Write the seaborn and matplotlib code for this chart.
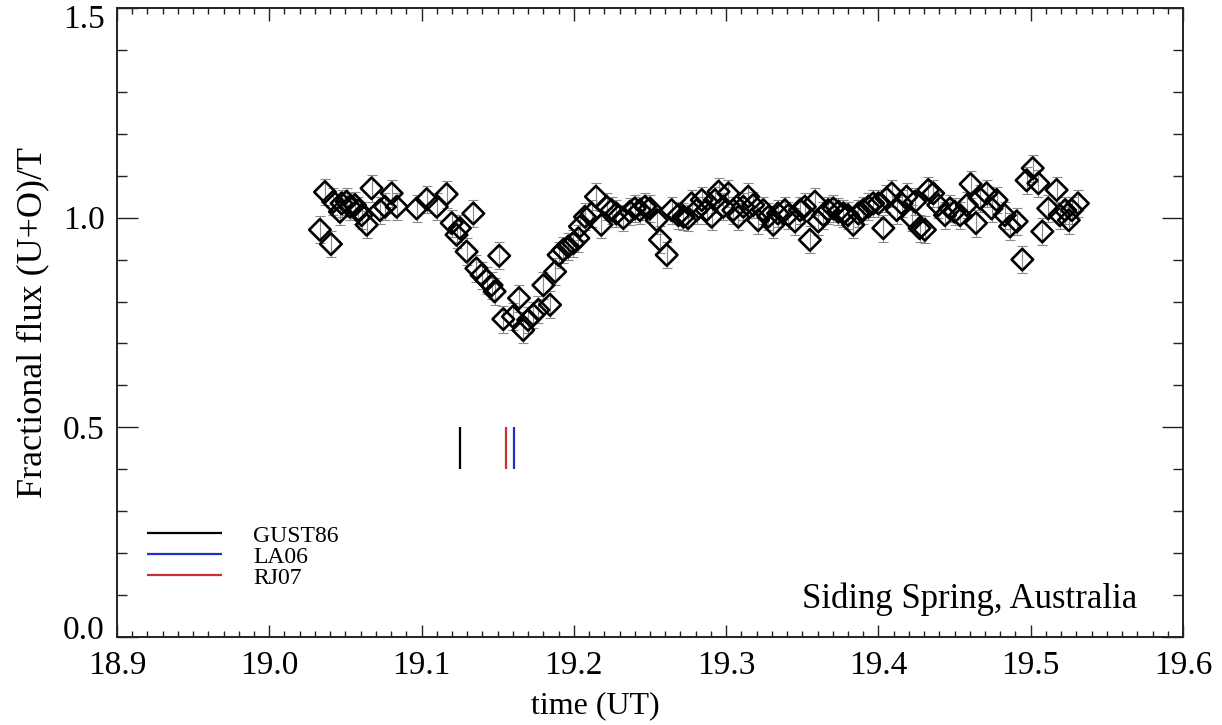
import matplotlib
matplotlib.use("Agg")
import matplotlib.pyplot as plt
import matplotlib.transforms as mtransforms
import seaborn as sns
import pandas as pd
from matplotlib.ticker import MultipleLocator

# ---------------- data ----------------
time_ut = [19.0333, 19.0366, 19.0405, 19.042, 19.0464, 19.0475, 19.0508, 19.053, 19.0563, 19.0585,
           19.0607, 19.064, 19.0672, 19.0727, 19.076, 19.0804, 19.0837, 19.0968, 19.1034, 19.110,
           19.1165, 19.1198, 19.123, 19.1252, 19.1296, 19.134, 19.136, 19.1394, 19.1427, 19.146,
           19.148, 19.151, 19.1537, 19.160, 19.164, 19.1668, 19.170, 19.1734, 19.1767, 19.180,
           19.1844, 19.1877, 19.190, 19.193, 19.1963, 19.1996, 19.203, 19.204, 19.2073, 19.2117,
           19.2145, 19.218, 19.2215, 19.2248, 19.228, 19.2325, 19.2368, 19.240, 19.2434, 19.2467,
           19.250, 19.2544, 19.2566, 19.261, 19.2642, 19.2686, 19.272, 19.275, 19.2773, 19.2806,
           19.284, 19.2872, 19.2905, 19.2927, 19.295, 19.2982, 19.3015, 19.3047, 19.308, 19.3113,
           19.3145, 19.3178, 19.321, 19.3244, 19.3277, 19.331, 19.334, 19.3386, 19.3408, 19.3452,
           19.3485, 19.3517, 19.355, 19.3583, 19.3605, 19.3638, 19.367, 19.3704, 19.3737, 19.377,
           19.380, 19.3835, 19.3868, 19.390, 19.3934, 19.3966, 19.400, 19.4032, 19.4053, 19.4087,
           19.412, 19.4152, 19.4185, 19.4218, 19.424, 19.427, 19.4305, 19.4327, 19.436, 19.4393,
           19.4437, 19.447, 19.450, 19.4536, 19.458, 19.4605, 19.464, 19.4667, 19.471, 19.4743,
           19.4776, 19.483, 19.4864, 19.4908, 19.4945, 19.4973, 19.5013, 19.505, 19.5076, 19.5115,
           19.517, 19.519, 19.5226, 19.525, 19.527, 19.531]

flux = [0.971, 1.061, 0.937, 1.038, 1.014, 1.034, 1.038, 1.026, 1.030, 1.018,
        1.006, 0.983, 1.070, 1.018, 1.026, 1.058, 1.026, 1.022, 1.044, 1.026,
        1.056, 0.987, 0.959, 0.975, 0.919, 1.010, 0.879, 0.863, 0.851, 0.839,
        0.824, 0.909, 0.758, 0.764, 0.808, 0.732, 0.756, 0.768, 0.780, 0.839,
        0.792, 0.871, 0.911, 0.923, 0.931, 0.939, 0.951, 0.979, 1.002, 1.010,
        1.050, 0.983, 1.026, 1.018, 1.010, 0.999, 1.014, 1.022, 1.018, 1.026,
        1.022, 0.994, 0.947, 0.911, 1.018, 1.006, 1.002, 0.999, 1.034, 1.018,
        1.042, 1.018, 1.002, 1.042, 1.062, 1.026, 1.058, 1.018, 1.002, 1.026,
        1.050, 1.030, 0.994, 1.018, 1.002, 0.983, 1.010, 1.018, 1.006, 0.991,
        1.018, 1.026, 0.947, 1.038, 0.991, 1.006, 1.018, 1.022, 1.014, 1.010,
        1.006, 0.983, 1.010, 1.018, 1.026, 1.034, 1.034, 0.975, 1.046, 1.058,
        1.018, 1.034, 1.050, 0.999, 1.038, 0.975, 0.971, 1.066, 1.058, 1.030,
        1.006, 1.022, 1.014, 1.006, 1.030, 1.080, 0.987, 1.046, 1.058, 1.022,
        1.042, 1.006, 0.979, 0.991, 0.900, 1.089, 1.118, 1.082, 0.967, 1.022,
        1.066, 1.006, 1.018, 0.994, 1.018, 1.034]

flux_err = 0.032

model_names = ["GUST86", "LA06", "RJ07"]
model_times = [19.1252, 19.1604, 19.1554]
model_colors = ["#000000", "#2030c8", "#c83030"]
mark_low, mark_high = 0.4, 0.5

x_ticks = [18.9, 19.0, 19.1, 19.2, 19.3, 19.4, 19.5, 19.6]
y_ticks = [0.0, 0.5, 1.0, 1.5]

# ---------------- style ----------------
sns.set_theme(style="ticks")
plt.rcParams["font.family"] = ["Liberation Serif", "DejaVu Serif"]
plt.rcParams["text.color"] = "black"
plt.rcParams["axes.labelcolor"] = "black"
plt.rcParams["xtick.color"] = "black"
plt.rcParams["ytick.color"] = "black"

fig = plt.figure(figsize=(12.22, 7.25), dpi=100)
ax = fig.add_axes([0.0957, 0.1214, 0.8724, 0.8676])

df = pd.DataFrame({"time": time_ut, "flux": flux})

ax.errorbar(df["time"], df["flux"], yerr=flux_err, fmt="none",
            ecolor="#8a8a8a", elinewidth=0.8, capsize=3.6, capthick=0.8, zorder=1)
sns.scatterplot(data=df, x="time", y="flux", ax=ax, marker="D", s=120,
                facecolor="none", edgecolor="black", linewidth=1.9, zorder=2, legend=False)

for name, t, c in zip(model_names, model_times, model_colors):
    ax.vlines(t, mark_low, mark_high, color=c, linewidth=1.6, label=name)

ax.set_xlim(18.9, 19.6)
ax.set_ylim(0.0, 1.5)
ax.set_xticks(x_ticks)
ax.set_yticks(y_ticks)
ax.set_xticklabels([f"{v:.1f}" for v in x_ticks])
ax.set_yticklabels([f"{v:.1f}" for v in y_ticks])
ax.xaxis.set_minor_locator(MultipleLocator(0.01))
ax.yaxis.set_minor_locator(MultipleLocator(0.1))

ax.tick_params(axis="both", which="both", direction="in", top=True, right=True,
               color="#222222", labelcolor="black", width=1.0, labelsize=24)
ax.tick_params(axis="x", which="major", length=9, pad=10)
ax.tick_params(axis="x", which="minor", length=4.5)
ax.tick_params(axis="y", which="major", length=15, pad=9)
ax.tick_params(axis="y", which="minor", length=7.5)
for sp in ax.spines.values():
    sp.set_linewidth(1.4)
    sp.set_color("#222222")

# end y labels are nudged inside the frame, as in the reference
ylabels = ax.get_yticklabels()
ylabels[0].set_transform(ylabels[0].get_transform() +
                         mtransforms.ScaledTranslation(0, 7 / 72, fig.dpi_scale_trans))
ylabels[-1].set_transform(ylabels[-1].get_transform() +
                          mtransforms.ScaledTranslation(0, -6 / 72, fig.dpi_scale_trans))

ax.set_xlabel("time (UT)", fontsize=23)
ax.set_ylabel("Fractional flux (U+O)/T", fontsize=26)
ax.xaxis.set_label_coords(0.449, -0.087)
ax.yaxis.set_label_coords(-0.063, 0.5)

ax.text(0.957, 0.046, "Siding Spring, Australia", transform=ax.transAxes,
        ha="right", va="baseline", fontsize=25)

ax.legend(loc="upper left", bbox_to_anchor=(0.028, 0.178), frameon=False,
          fontsize=17, handlelength=3.2, handletextpad=1.3, labelspacing=-0.02,
          borderaxespad=0, borderpad=0)

fig.savefig("out.png", dpi=100)
